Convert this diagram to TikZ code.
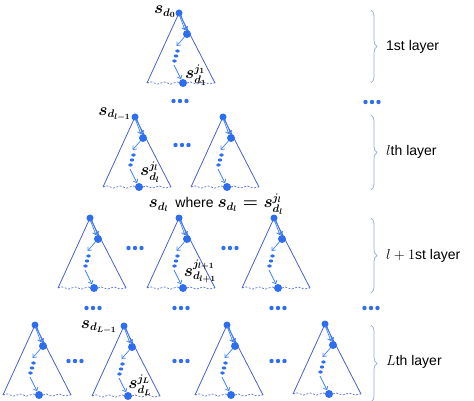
\documentclass[tikz,border=0pt]{standalone}
\usepackage[no-math]{fontspec}
\setmainfont{Liberation Sans}
\usetikzlibrary{arrows.meta,shapes.geometric,decorations.pathmorphing,decorations.pathreplacing}
\definecolor{nodeblue}{RGB}{45,110,240}
\definecolor{triblue}{RGB}{75,95,205}
\definecolor{arrblue}{RGB}{60,130,245}
\definecolor{brblue}{RGB}{150,170,225}
\tikzset{
  bignode/.style={circle, fill=nodeblue, inner sep=0pt, minimum size=7pt},
  midnode/.style={circle, fill=nodeblue, inner sep=0pt, minimum size=8pt},
  dotnode/.style={ellipse, fill=nodeblue, inner sep=0pt, minimum width=4.4pt, minimum height=3.2pt},
  hdot/.style={circle, fill=nodeblue, inner sep=0pt, minimum size=4.4pt},
  tri/.style={draw=triblue, line width=0.8pt},
  wavy/.style={draw=triblue, line width=0.6pt, dash pattern=on 2pt off 1.5pt,
    decorate, decoration={snake, amplitude=1.1pt, segment length=13pt}},
  arr/.style={draw=arrblue, line width=0.7pt, -{Straight Barb[length=3pt,width=5pt]}},
  brc/.style={draw=brblue, line width=0.7pt, decorate, decoration={brace, amplitude=6pt}},
  mlab/.style={inner sep=0pt, font=\fontsize{16}{18}\selectfont\boldmath},
  txt/.style={inner sep=0pt, font=\fontsize{14}{16}\selectfont},
}
\newcommand\mytree[3]{%
  \begin{scope}[shift={(#2,#3)}]
    \coordinate (#1l) at (-32,70);
    \coordinate (#1r) at (36,70);
    \draw[tri] (#1l) -- (0,0) -- (#1r);
    \draw[wavy] (#1l) -- (#1r);
    \node[bignode] (#1a) at (0,0) {};
    \node[midnode] (#1b) at (8,21) {};
    \node[midnode] (#1c) at (4,70) {};
    \coordinate (#1p) at (-2.5,33);
    \coordinate (#1q) at (-5,52);
    \node[dotnode] (#1d1) at (-1.5,38) {};
    \node[dotnode] (#1d2) at (-3,43) {};
    \node[dotnode] (#1d3) at (-4.5,48) {};
    \draw[arr, shorten <=2pt, shorten >=4pt] ([xshift=1.1pt]#1a.center) -- ([xshift=1.1pt]#1b.center);
    \draw[arr, shorten <=2pt, shorten >=4pt] ([xshift=-0.5pt]#1a.center) -- ([xshift=-0.5pt]#1b.center);
    \draw[arr] (#1b) -- (#1p);
    \draw[arr] (#1q) -- (#1c);
  \end{scope}}
\newcommand\mydots[3]{%
  \node[hdot] (#1x) at (#2-6.5,#3) {};
  \node[hdot] (#1y) at (#2,#3) {};
  \node[hdot] (#1z) at (#2+6.5,#3) {};}
\begin{document}
\begin{tikzpicture}[x=1pt,y=-1pt]
\useasboundingbox (0,0) rectangle (474,401);
% trees
\mytree{ta}{179}{13}
\mytree{tb}{135}{117}
\mytree{tc}{223}{117}
\mytree{td}{90}{218}
\mytree{te}{179}{218}
\mytree{tf}{274}{218}
\mytree{tg}{35}{325}
\mytree{th}{124}{326}
\mytree{ti}{227}{325}
\mytree{tj}{325}{324}
% dots
\mydots{da}{180}{101}
\mydots{db}{372}{102}
\mydots{dc}{182}{145}
\mydots{dd}{135}{248}
\mydots{de}{230}{248}
\mydots{df}{93}{308}
\mydots{dg}{181}{308}
\mydots{dh}{278}{308}
\mydots{di}{371}{308}
\mydots{dj}{75}{361}
\mydots{dk}{181}{361}
\mydots{dl}{278}{361}
% labels
\node[mlab, anchor=east] (ls0) at (176,12) {$s_{d_0}$};
\node[mlab] (ls1) at (196,75) {$s^{j_1}_{d_1}$};
\node[mlab, anchor=east] (lsl1) at (131,114) {$s_{d_{l-1}}$};
\node[mlab] (lsl) at (150,172) {$s^{j_l}_{d_l}$};
\node[txt] (where) at (216,204) {{\boldmath\fontsize{16}{18}\selectfont$s_{d_l}$}\enspace where {\boldmath\fontsize{16}{18}\selectfont$s_{d_l}=s^{j_l}_{d_l}$}};
\node[mlab] (lsl2) at (200,271) {$s^{j_{l+1}}_{d_{l+1}}$};
\node[mlab, anchor=east] (lsL1) at (117,327) {$s_{d_{L-1}}$};
\node[mlab] (lsL) at (140,385) {$s^{j_L}_{d_L}$};
% braces
\coordinate (b1t) at (371,10);  \coordinate (b1b) at (371,83);
\coordinate (b2t) at (371,115); \coordinate (b2b) at (371,190);
\coordinate (b3t) at (371,218); \coordinate (b3b) at (371,293);
\coordinate (b4t) at (371,325); \coordinate (b4b) at (371,402);
\draw[brc] (b1t) -- (b1b);
\draw[brc] (b2t) -- (b2b);
\draw[brc] (b3t) -- (b3b);
\draw[brc] (b4t) -- (b4b);
\node[txt, anchor=west] (L1) at (386,47) {1st layer};
\node[txt, anchor=west] (L2) at (386,152) {$l$th layer};
\node[txt, anchor=west] (L3) at (386,256) {$l+1$st layer};
\node[txt, anchor=west] (L4) at (386,362) {$L$th layer};
\end{tikzpicture}
\end{document}
